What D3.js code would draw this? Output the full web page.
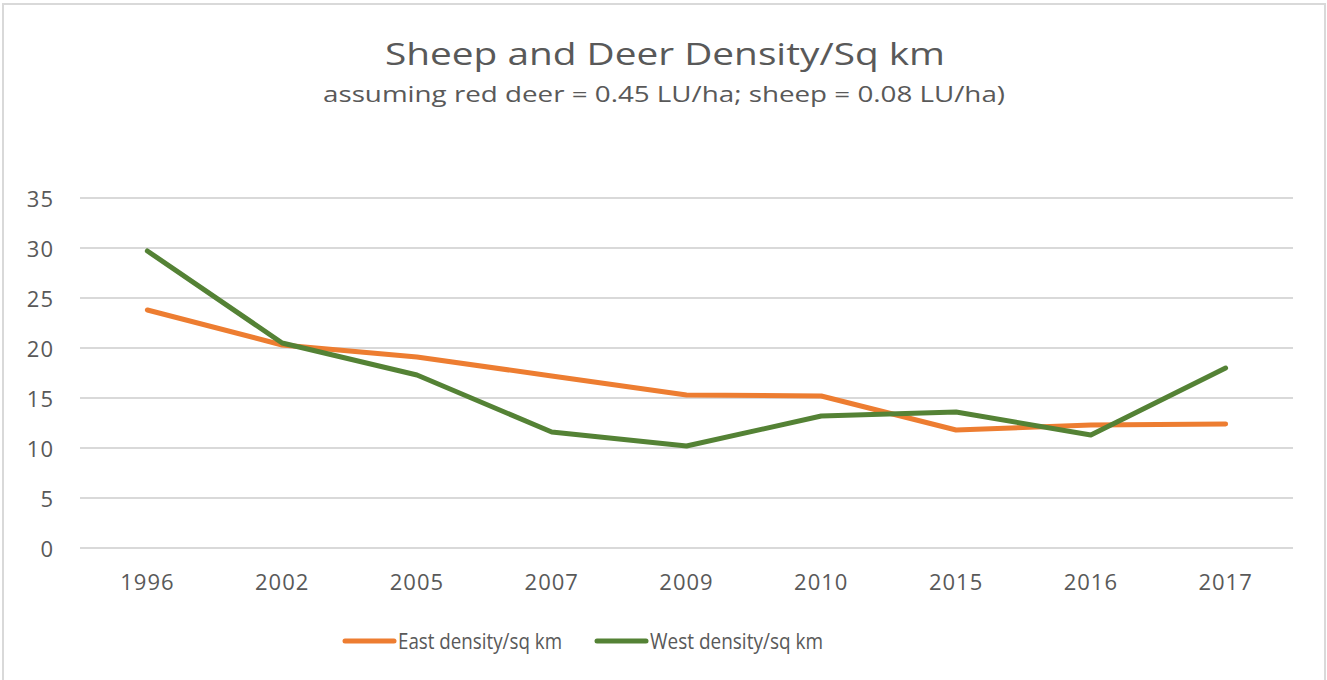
<!DOCTYPE html>
<html>
<head>
<meta charset="utf-8">
<script src="https://cdn.jsdelivr.net/npm/d3@7"></script>
<style>
  body { margin: 0; background: #fff; }
  text { font-family: "Open Sans", sans-serif; fill: #595959; }
</style>
</head>
<body>
<div id="chart"></div>
<script>
// Data
var years = ["1996", "2002", "2005", "2007", "2009", "2010", "2015", "2016", "2017"];
var eastDensity = [23.8, 20.3, 19.1, 17.2, 15.3, 15.2, 11.8, 12.3, 12.4];
var westDensity = [29.7, 20.5, 17.3, 11.6, 10.2, 13.2, 13.6, 11.3, 18.0];
var yTicks = [0, 5, 10, 15, 20, 25, 30, 35];
var seriesNames = ["East density/sq km", "West density/sq km"];
var seriesColors = ["#ED7D31", "#548235"];

var W = 1327, H = 680;
var margin = {top: 198, right: 34, bottom: 132, left: 80};

var svg = d3.select("#chart").append("svg")
  .attr("width", W)
  .attr("height", H);

// chart frame
svg.append("rect")
  .attr("x", 3).attr("y", 4)
  .attr("width", 1322).attr("height", 690)
  .attr("fill", "#fff")
  .attr("stroke", "#d9d9d9")
  .attr("stroke-width", 2);

// titles (reference font is wider, so stretch to its measured width)
svg.append("text")
  .attr("x", 665).attr("y", 65)
  .attr("text-anchor", "middle")
  .attr("textLength", 560)
  .attr("lengthAdjust", "spacingAndGlyphs")
  .style("font-size", "31px")
  .text("Sheep and Deer Density/Sq km");
svg.append("text")
  .attr("x", 664).attr("y", 102)
  .attr("text-anchor", "middle")
  .attr("textLength", 682)
  .attr("lengthAdjust", "spacingAndGlyphs")
  .style("font-size", "22px")
  .text("assuming red deer = 0.45 LU/ha; sheep = 0.08 LU/ha)");

var x = d3.scaleBand()
  .domain(years)
  .range([margin.left, W - margin.right]);

var y = d3.scaleLinear()
  .domain([0, 35])
  .range([548, margin.top]);

// gridlines
svg.append("g")
  .selectAll("line")
  .data(yTicks)
  .join("line")
  .attr("x1", margin.left)
  .attr("x2", W - margin.right)
  .attr("y1", function(d){ return y(d); })
  .attr("y2", function(d){ return y(d); })
  .attr("stroke", "#d9d9d9")
  .attr("stroke-width", 2);

// y axis labels
var yAxis = d3.axisLeft(y).tickValues(yTicks).tickSize(0).tickPadding(0);
var gy = svg.append("g")
  .attr("transform", "translate(54,1)")
  .call(yAxis);
gy.select(".domain").remove();
gy.selectAll("text")
  .style("font-size", "22px")
  .style("letter-spacing", "1px")
  .attr("fill", "#595959");

// x axis labels
var xAxis = d3.axisBottom(x).tickSize(0).tickPadding(0);
var gx = svg.append("g")
  .attr("transform", "translate(0,574)")
  .call(xAxis);
gx.select(".domain").remove();
gx.selectAll("text")
  .style("font-size", "22px")
  .style("letter-spacing", "1px")
  .attr("fill", "#595959");

// lines
var line = d3.line()
  .x(function(d, i){ return x(years[i]) + x.bandwidth() / 2; })
  .y(function(d){ return y(d); });

[eastDensity, westDensity].forEach(function(s, k){
  svg.append("path")
    .datum(s)
    .attr("d", line)
    .attr("fill", "none")
    .attr("stroke", seriesColors[k])
    .attr("stroke-width", 5)
    .attr("stroke-linecap", "round")
    .attr("stroke-linejoin", "round");
});

// legend
var legendX = [345, 597];
var legendW = [164, 173];
var legend = svg.append("g")
  .selectAll("g")
  .data(seriesNames)
  .join("g")
  .attr("transform", function(d, i){ return "translate(" + legendX[i] + ",641)"; });
legend.append("line")
  .attr("x1", 0).attr("x2", 49)
  .attr("stroke", function(d, i){ return seriesColors[i]; })
  .attr("stroke-width", 5)
  .attr("stroke-linecap", "round");
legend.append("text")
  .attr("x", 53).attr("y", 8)
  .attr("textLength", function(d, i){ return legendW[i]; })
  .attr("lengthAdjust", "spacingAndGlyphs")
  .style("font-size", "21px")
  .text(function(d){ return d; });
</script>
</body>
</html>
